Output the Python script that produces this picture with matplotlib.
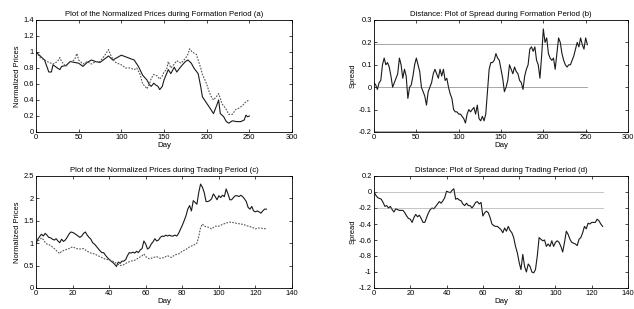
import matplotlib
matplotlib.use("Agg")
import matplotlib.pyplot as plt

plt.rcParams['font.family'] = ['Liberation Sans', 'DejaVu Sans']

# ---------------- Panel (a): formation period normalized prices ----------------
a_days_solid = [0, 5, 10, 15, 18, 20, 25, 28, 30, 35, 40, 45, 50, 55, 60, 65, 70, 75, 80, 85,
                90, 95, 100, 105, 110, 115, 120, 125, 130, 133, 135, 138, 140, 143, 145, 148,
                150, 155, 158, 162, 165, 170, 175, 178, 182, 185, 190, 193, 195, 200, 205, 208,
                212, 214, 216, 220, 223, 226, 230, 235, 240, 244, 246, 248, 250]
a_solid = [1.0, 0.95, 0.9, 0.75, 0.75, 0.84, 0.8, 0.78, 0.82, 0.83, 0.88, 0.87, 0.86, 0.82,
           0.87, 0.9, 0.88, 0.87, 0.91, 0.95, 0.9, 0.93, 0.96, 0.94, 0.92, 0.9, 0.82, 0.71,
           0.65, 0.59, 0.57, 0.61, 0.59, 0.57, 0.53, 0.57, 0.65, 0.78, 0.73, 0.81, 0.75, 0.82,
           0.88, 0.9, 0.86, 0.8, 0.73, 0.57, 0.44, 0.36, 0.28, 0.23, 0.34, 0.4, 0.23, 0.19,
           0.13, 0.11, 0.14, 0.13, 0.13, 0.15, 0.21, 0.19, 0.2]
a_days_dotted = [0, 5, 10, 15, 20, 25, 28, 30, 35, 40, 45, 48, 50, 55, 60, 65, 70, 75, 80, 85,
                 88, 92, 95, 100, 105, 110, 115, 118, 122, 125, 128, 130, 133, 135, 138, 142,
                 145, 148, 150, 153, 155, 158, 162, 165, 170, 175, 178, 180, 183, 188, 190, 193,
                 195, 198, 200, 203, 205, 208, 212, 214, 216, 218, 222, 226, 230, 234, 238, 242,
                 246, 250]
a_dotted = [1.0, 0.93, 0.9, 0.87, 0.85, 0.88, 0.93, 0.88, 0.82, 0.88, 0.9, 0.98, 0.9, 0.85,
            0.88, 0.85, 0.88, 0.88, 0.95, 1.03, 0.95, 0.88, 0.86, 0.84, 0.8, 0.8, 0.78, 0.8,
            0.72, 0.6, 0.57, 0.54, 0.6, 0.67, 0.72, 0.7, 0.66, 0.7, 0.75, 0.78, 0.88, 0.8,
            0.85, 0.89, 0.86, 0.92, 0.97, 1.04, 1.0, 0.97, 0.9, 0.8, 0.72, 0.65, 0.6, 0.5,
            0.45, 0.4, 0.45, 0.48, 0.42, 0.35, 0.3, 0.22, 0.22, 0.28, 0.3, 0.33, 0.38, 0.4]

# ---------------- Panel (b): formation period spread ----------------
b_days = list(range(0, 254, 2))
b_spread = [0.02, 0.01, -0.01, 0.02, 0.03, 0.1, 0.13, 0.1, 0.11, 0.09, 0.05, 0.0, 0.02, 0.04,
            0.06, 0.13, 0.1, 0.04, 0.08, 0.05, -0.05, 0.0, 0.01, 0.05, 0.1, 0.13, 0.1, 0.07,
            0.0, -0.02, -0.04, -0.08, -0.02, 0.0, 0.02, 0.06, 0.08, 0.06, 0.04, 0.08, 0.05,
            0.08, 0.03, 0.04, 0.0, -0.03, -0.05, -0.1, -0.11, -0.11, -0.12, -0.12, -0.13,
            -0.14, -0.16, -0.12, -0.1, -0.11, -0.1, -0.09, -0.12, -0.08, -0.14, -0.15, -0.13,
            -0.15, -0.12, -0.02, 0.08, 0.11, 0.11, 0.12, 0.15, 0.13, 0.12, 0.08, 0.04, -0.02,
            0.0, 0.03, 0.1, 0.08, 0.06, 0.09, 0.07, 0.06, 0.03, 0.02, -0.01, 0.05, 0.08, 0.1,
            0.17, 0.18, 0.16, 0.18, 0.12, 0.1, 0.04, 0.14, 0.26, 0.2, 0.22, 0.15, 0.13, 0.12,
            0.13, 0.08, 0.15, 0.22, 0.2, 0.15, 0.12, 0.1, 0.09, 0.1, 0.1, 0.12, 0.14, 0.17,
            0.2, 0.18, 0.22, 0.19, 0.17, 0.22, 0.19]
b_levels = [0.195, 0.0, -0.195]

# ---------------- Panel (c): trading period normalized prices ----------------
c_days = list(range(0, 127))
c_solid = [1.0, 1.09, 1.15, 1.2, 1.16, 1.22, 1.18, 1.13, 1.12, 1.09, 1.07, 1.1, 1.05, 1.01,
           1.09, 1.04, 1.07, 1.13, 1.2, 1.25, 1.24, 1.22, 1.19, 1.16, 1.13, 1.16, 1.22, 1.25,
           1.18, 1.13, 1.09, 1.01, 0.98, 0.93, 0.88, 0.83, 0.79, 0.79, 0.73, 0.68, 0.64, 0.6,
           0.57, 0.53, 0.48, 0.58, 0.55, 0.6, 0.6, 0.63, 0.72, 0.79, 0.78, 0.8, 0.78, 0.82,
           0.79, 0.85, 0.88, 1.05, 0.98, 0.87, 0.9, 0.98, 1.03, 1.1, 1.05, 1.07, 1.13, 1.16,
           1.15, 1.18, 1.16, 1.18, 1.16, 1.16, 1.18, 1.16, 1.22, 1.31, 1.4, 1.5, 1.61, 1.76,
           1.84, 1.72, 1.95, 1.91, 1.87, 2.13, 2.32, 2.25, 2.13, 1.93, 1.93, 1.95, 1.99, 2.1,
           2.04, 1.97, 2.06, 2.02, 2.07, 2.04, 2.21, 2.1, 1.97, 1.97, 2.02, 2.06, 2.06, 2.04,
           2.07, 2.04, 1.99, 1.93, 1.8, 1.76, 1.82, 1.72, 1.7, 1.72, 1.7, 1.67, 1.72, 1.76, 1.76]
c_days_dotted = [0, 2, 3, 4, 5, 6, 8, 10, 12, 13, 14, 16, 18, 20, 22, 24, 26, 28, 30, 32, 34,
                 36, 38, 40, 42, 44, 46, 48, 50, 52, 54, 56, 58, 59, 60, 62, 64, 66, 68, 70,
                 72, 74, 76, 78, 80, 82, 84, 86, 88, 89, 90, 91, 92, 94, 96, 98, 100, 102, 104,
                 106, 108, 110, 112, 114, 116, 118, 120, 122, 124, 126]
c_dotted = [1.0, 1.08, 1.12, 1.08, 1.02, 0.98, 0.95, 0.88, 0.8, 0.77, 0.82, 0.85, 0.88, 0.92,
            0.88, 0.87, 0.88, 0.82, 0.78, 0.76, 0.72, 0.68, 0.64, 0.63, 0.6, 0.55, 0.5, 0.52,
            0.57, 0.6, 0.62, 0.67, 0.72, 0.76, 0.7, 0.65, 0.68, 0.7, 0.66, 0.68, 0.72, 0.68,
            0.74, 0.76, 0.82, 0.86, 0.92, 0.95, 1.0, 1.15, 1.35, 1.43, 1.38, 1.36, 1.32, 1.38,
            1.38, 1.42, 1.45, 1.47, 1.46, 1.44, 1.43, 1.41, 1.38, 1.36, 1.32, 1.34, 1.33, 1.32]

# ---------------- Panel (d): trading period spread ----------------
d_days = list(range(0, 127))
d_spread = [0.0, -0.04, -0.07, -0.08, -0.09, -0.13, -0.18, -0.17, -0.2, -0.18, -0.22, -0.25,
            -0.21, -0.22, -0.23, -0.23, -0.23, -0.26, -0.3, -0.33, -0.34, -0.38, -0.32, -0.28,
            -0.31, -0.29, -0.33, -0.38, -0.38, -0.32, -0.26, -0.22, -0.2, -0.21, -0.18, -0.15,
            -0.12, -0.14, -0.11, -0.07, 0.01, 0.0, -0.01, 0.02, 0.04, -0.09, -0.08, -0.1,
            -0.11, -0.15, -0.17, -0.14, -0.17, -0.17, -0.2, -0.17, -0.13, -0.12, -0.15, -0.13,
            -0.3, -0.26, -0.24, -0.26, -0.32, -0.4, -0.42, -0.43, -0.43, -0.45, -0.47, -0.51,
            -0.45, -0.49, -0.43, -0.48, -0.51, -0.57, -0.68, -0.76, -0.88, -0.97, -0.78, -0.93,
            -1.0, -0.9, -0.93, -1.0, -1.01, -0.97, -0.8, -0.57, -0.59, -0.61, -0.6, -0.68,
            -0.65, -0.68, -0.61, -0.68, -0.63, -0.61, -0.63, -0.68, -0.75, -0.63, -0.49, -0.53,
            -0.59, -0.63, -0.64, -0.65, -0.67, -0.59, -0.57, -0.51, -0.43, -0.46, -0.39, -0.4,
            -0.38, -0.38, -0.38, -0.34, -0.36, -0.4, -0.43]
d_levels = [0.0, -0.2]

titles = ["Plot of the Normalized Prices during Formation Period (a)",
          "Distance: Plot of Spread during Formation Period (b)",
          "Plot of the Normalized Prices during Trading Period (c)",
          "Distance: Plot of Spread during Trading Period (d)"]

W, H = 634, 309
fig = plt.figure(figsize=(W / 100, H / 100), dpi=100)
fig.patch.set_facecolor('white')

def box(l, t, r, b):
    return [l / W, 1 - b / H, (r - l) / W, (b - t) / H]

axa = fig.add_axes(box(36, 20, 292, 132))
axb = fig.add_axes(box(374, 20, 628, 132))
axc = fig.add_axes(box(36, 176, 292, 288))
axd = fig.add_axes(box(374, 176, 628, 288))

FS = 5.4
def style(ax, title, ylabel):
    ax.set_title(title, fontsize=FS + 0.2, pad=3)
    ax.set_xlabel("Day", fontsize=FS + 0.3, labelpad=1)
    ax.set_ylabel(ylabel, fontsize=FS, labelpad=2)
    ax.tick_params(direction='in', top=True, right=True, length=2.5, width=0.5,
                   labelsize=FS, pad=1.5)
    for s in ax.spines.values():
        s.set_linewidth(0.6)

lw = 0.8
axa.plot(a_days_solid, a_solid, color='#1a1a1a', lw=lw)
axa.plot(a_days_dotted, a_dotted, color='#555555', lw=lw, ls=(0, (1.5, 1.2)))
axa.set_xlim(0, 300); axa.set_ylim(0, 1.4)
axa.set_yticks([0, 0.2, 0.4, 0.6, 0.8, 1, 1.2, 1.4])
axa.set_yticklabels(["0", "0.2", "0.4", "0.6", "0.8", "1", "1.2", "1.4"])
style(axa, titles[0], "Normalized Prices")

axb.plot(b_days, b_spread, color='#1a1a1a', lw=lw)
for lv in b_levels:
    axb.plot([0, 252], [lv, lv], color='#333333', lw=0.6, ls=(0, (1.2, 1.2)))
axb.set_xlim(0, 300); axb.set_ylim(-0.2, 0.3)
axb.set_yticks([-0.2, -0.1, 0, 0.1, 0.2, 0.3])
axb.set_yticklabels(["-0.2", "-0.1", "0", "0.1", "0.2", "0.3"])
style(axb, titles[1], "Spread")

axc.plot(c_days, c_solid, color='#1a1a1a', lw=lw)
axc.plot(c_days_dotted, c_dotted, color='#555555', lw=lw, ls=(0, (1.5, 1.2)))
axc.set_xlim(0, 140); axc.set_ylim(0, 2.5)
axc.set_yticks([0, 0.5, 1, 1.5, 2, 2.5])
axc.set_yticklabels(["0", "0.5", "1", "1.5", "2", "2.5"])
style(axc, titles[2], "Normalized Prices")

axd.plot(d_days, d_spread, color='#1a1a1a', lw=lw)
for lv in d_levels:
    axd.plot([0, 126], [lv, lv], color='#777777', lw=0.6, ls=(0, (1.2, 1.2)))
axd.set_xlim(0, 140); axd.set_ylim(-1.2, 0.2)
axd.set_yticks([-1.2, -1, -0.8, -0.6, -0.4, -0.2, 0, 0.2])
axd.set_yticklabels(["-1.2", "-1", "-0.8", "-0.6", "-0.4", "-0.2", "0", "0.2"])
style(axd, titles[3], "Spread")

fig.savefig("out.png", dpi=100, facecolor='white')
